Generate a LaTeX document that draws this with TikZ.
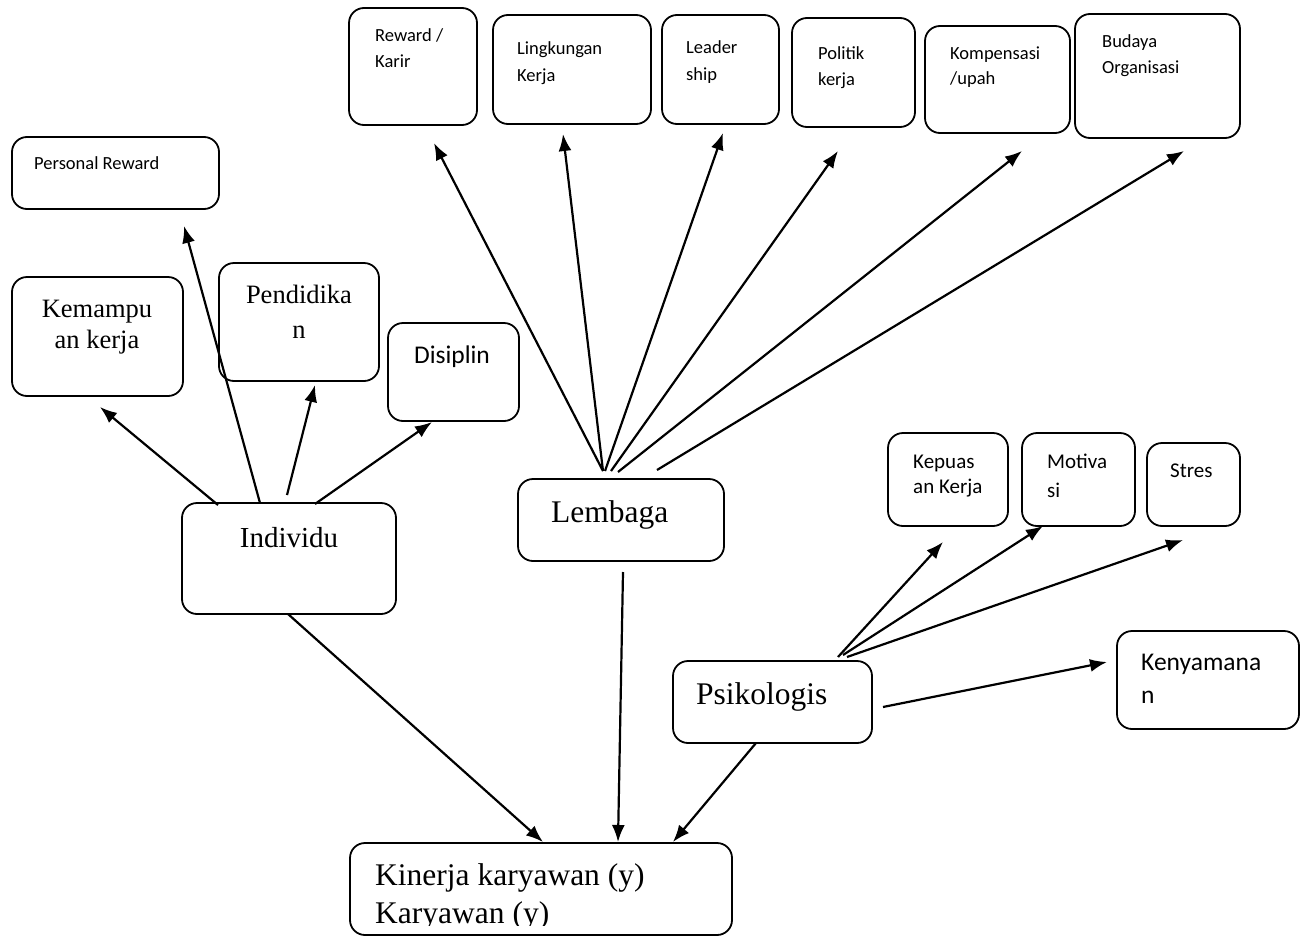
\documentclass[tikz,border=0pt]{standalone}
\usepackage{fontspec}
\setmainfont{Liberation Serif}
\newfontfamily\carl{Carlito}
\usetikzlibrary{arrows.meta}
\begin{document}
\begin{tikzpicture}[x=1pt,y=-1pt,
  bx/.style={draw, line width=1.8pt, rounded corners=15pt, inner sep=0pt, outer sep=0pt, anchor=north west},
  arr/.style={line width=2.2pt, -{Latex[length=17pt,width=13pt]}},
  ts/.style={anchor=base west, inner sep=0pt, font=\carl\fontsize{18.5}{22}\selectfont},
  tm/.style={anchor=base west, inner sep=0pt, font=\carl\fontsize{21}{25}\selectfont},
  tl/.style={anchor=base west, inner sep=0pt, font=\carl\fontsize{25.5}{30}\selectfont},
  tlc/.style={anchor=base, inner sep=0pt, font=\carl\fontsize{25.5}{30}\selectfont},
  sc/.style={anchor=base, inner sep=0pt, font=\fontsize{26.5}{31}\selectfont},
  sbig/.style={anchor=base west, inner sep=0pt, font=\fontsize{31.5}{36}\selectfont},
  sbigc/.style={anchor=base, inner sep=0pt, font=\fontsize{29}{34}\selectfont}
]
\useasboundingbox (0,0) rectangle (1307,937);

% boxes
\node[bx, minimum width=128pt, minimum height=117pt] (reward) at (349,8) {};
\node[bx, minimum width=158pt, minimum height=109pt] (lingk) at (493,15) {};
\node[bx, minimum width=117pt, minimum height=109pt] (leader) at (662,15) {};
\node[bx, minimum width=123pt, minimum height=109pt] (politik) at (792,18) {};
\node[bx, minimum width=145pt, minimum height=107pt] (kompen) at (925,26) {};
\node[bx, minimum width=165pt, minimum height=124pt] (budaya) at (1075,14) {};
\node[bx, minimum width=207pt, minimum height=72pt] (personal) at (12,137) {};
\node[bx, minimum width=171pt, minimum height=119pt] (kemampu) at (12,277) {};
\node[bx, minimum width=160pt, minimum height=118pt] (pendid) at (219,263) {};
\node[bx, minimum width=131pt, minimum height=98pt] (disiplin) at (388,323) {};
\node[bx, minimum width=214pt, minimum height=111pt] (individu) at (182,503) {};
\node[bx, minimum width=206pt, minimum height=82pt] (lembaga) at (518,479) {};
\node[bx, minimum width=120pt, minimum height=93pt] (kepuas) at (888,433) {};
\node[bx, minimum width=113pt, minimum height=93pt] (motiva) at (1022,433) {};
\node[bx, minimum width=93pt, minimum height=83pt] (stres) at (1147,443) {};
\node[bx, minimum width=182pt, minimum height=98pt] (kenyam) at (1117,631) {};
\node[bx, minimum width=199pt, minimum height=82pt] (psiko) at (673,661) {};
\node[bx, minimum width=382pt, minimum height=92pt] (kinerja) at (350,843) {};

% texts
\node[ts] (reward-a) at (375,41) {Reward /};
\node[ts] (reward-b) at (375,67) {Karir};
\node[ts] (lingk-a) at (517,54) {Lingkungan};
\node[ts] (lingk-b) at (517,81) {Kerja};
\node[ts] (leader-a) at (686,53) {Leader};
\node[ts] (leader-b) at (686,80) {ship};
\node[ts] (politik-a) at (818,59) {Politik};
\node[ts] (politik-b) at (818,85) {kerja};
\node[ts] (kompen-a) at (950,59) {Kompensasi};
\node[ts] (kompen-b) at (950,84) {/upah};
\node[ts] (budaya-a) at (1102,47) {Budaya};
\node[ts] (budaya-b) at (1102,73) {Organisasi};
\node[ts] (personal-a) at (34,169) {Personal Reward};
\node[sc] (kemampu-a) at (97,317) {Kemampu};
\node[sc] (kemampu-b) at (97,348) {an kerja};
\node[sc] (pendid-a) at (299,303) {Pendidika};
\node[sc] (pendid-b) at (299,338) {n};
\node[tlc] (disiplin-a) at (452,363) {Disiplin};
\node[sbigc] (individu-a) at (289,547) {Individu};
\node[sbig] (lembaga-a) at (551,522) {Lembaga};
\node[tm] (kepuas-a) at (913,468) {Kepuas};
\node[tm] (kepuas-b) at (913,493) {an Kerja};
\node[tm] (motiva-a) at (1047,468) {Motiva};
\node[tm] (motiva-b) at (1047,497) {si};
\node[tm] (stres-a) at (1170,477) {Stres};
\node[tl] (kenyam-a) at (1141,670) {Kenyamana};
\node[tl] (kenyam-b) at (1141,703) {n};
\node[sbig] (psiko-a) at (696,704) {Psikologis};
\begin{scope}
\clip (352,845) rectangle (730,925);
\node[sbig] (kinerja-a) at (375,885) {Kinerja karyawan (y)};
\node[sbig] (kinerja-b) at (375,923) {Karyawan (y)};
\end{scope}

% connector ends
\coordinate (i1) at (218,505);
\coordinate (i2) at (260,503);
\coordinate (i3) at (287,495);
\coordinate (i4) at (315,504);
\coordinate (i5) at (288,614);
\coordinate (kemampu-p) at (100,407);
\coordinate (personal-p) at (184,226);
\coordinate (pendid-p) at (315,385);
\coordinate (disiplin-p) at (432,422);
\coordinate (l1) at (603,471);
\coordinate (l2) at (605,471);
\coordinate (l3) at (611,471);
\coordinate (l4) at (618,472);
\coordinate (l5) at (657,470);
\coordinate (l6) at (623,572);
\coordinate (reward-p) at (434,143);
\coordinate (lingk-p) at (563,134);
\coordinate (leader-p) at (723,133);
\coordinate (politik-p) at (838,151);
\coordinate (kompen-p) at (1022,151);
\coordinate (budaya-p) at (1184,151);
\coordinate (p1) at (838,657);
\coordinate (p2) at (843,655);
\coordinate (p3) at (847,657);
\coordinate (p4) at (883,707);
\coordinate (p5) at (756,743);
\coordinate (kepuas-p) at (943,542);
\coordinate (motiva-p) at (1043,526);
\coordinate (stres-p) at (1183,540);
\coordinate (kenyam-p) at (1107,662);
\coordinate (k1) at (543,842);
\coordinate (k2) at (618,842);
\coordinate (k3) at (673,842);

% connectors
\draw[arr] (i1) -- (kemampu-p);
\draw[arr] (i2) -- (personal-p);
\draw[arr] (i3) -- (pendid-p);
\draw[arr] (i4) -- (disiplin-p);
\draw[arr] (i5) -- (k1);
\draw[arr] (l1) -- (reward-p);
\draw[arr] (l1) -- (lingk-p);
\draw[arr] (l2) -- (leader-p);
\draw[arr] (l3) -- (politik-p);
\draw[arr] (l4) -- (kompen-p);
\draw[arr] (l5) -- (budaya-p);
\draw[arr] (l6) -- (k2);
\draw[arr] (p1) -- (kepuas-p);
\draw[arr] (p2) -- (motiva-p);
\draw[arr] (p3) -- (stres-p);
\draw[arr] (p4) -- (kenyam-p);
\draw[arr] (p5) -- (k3);
\end{tikzpicture}
\end{document}
